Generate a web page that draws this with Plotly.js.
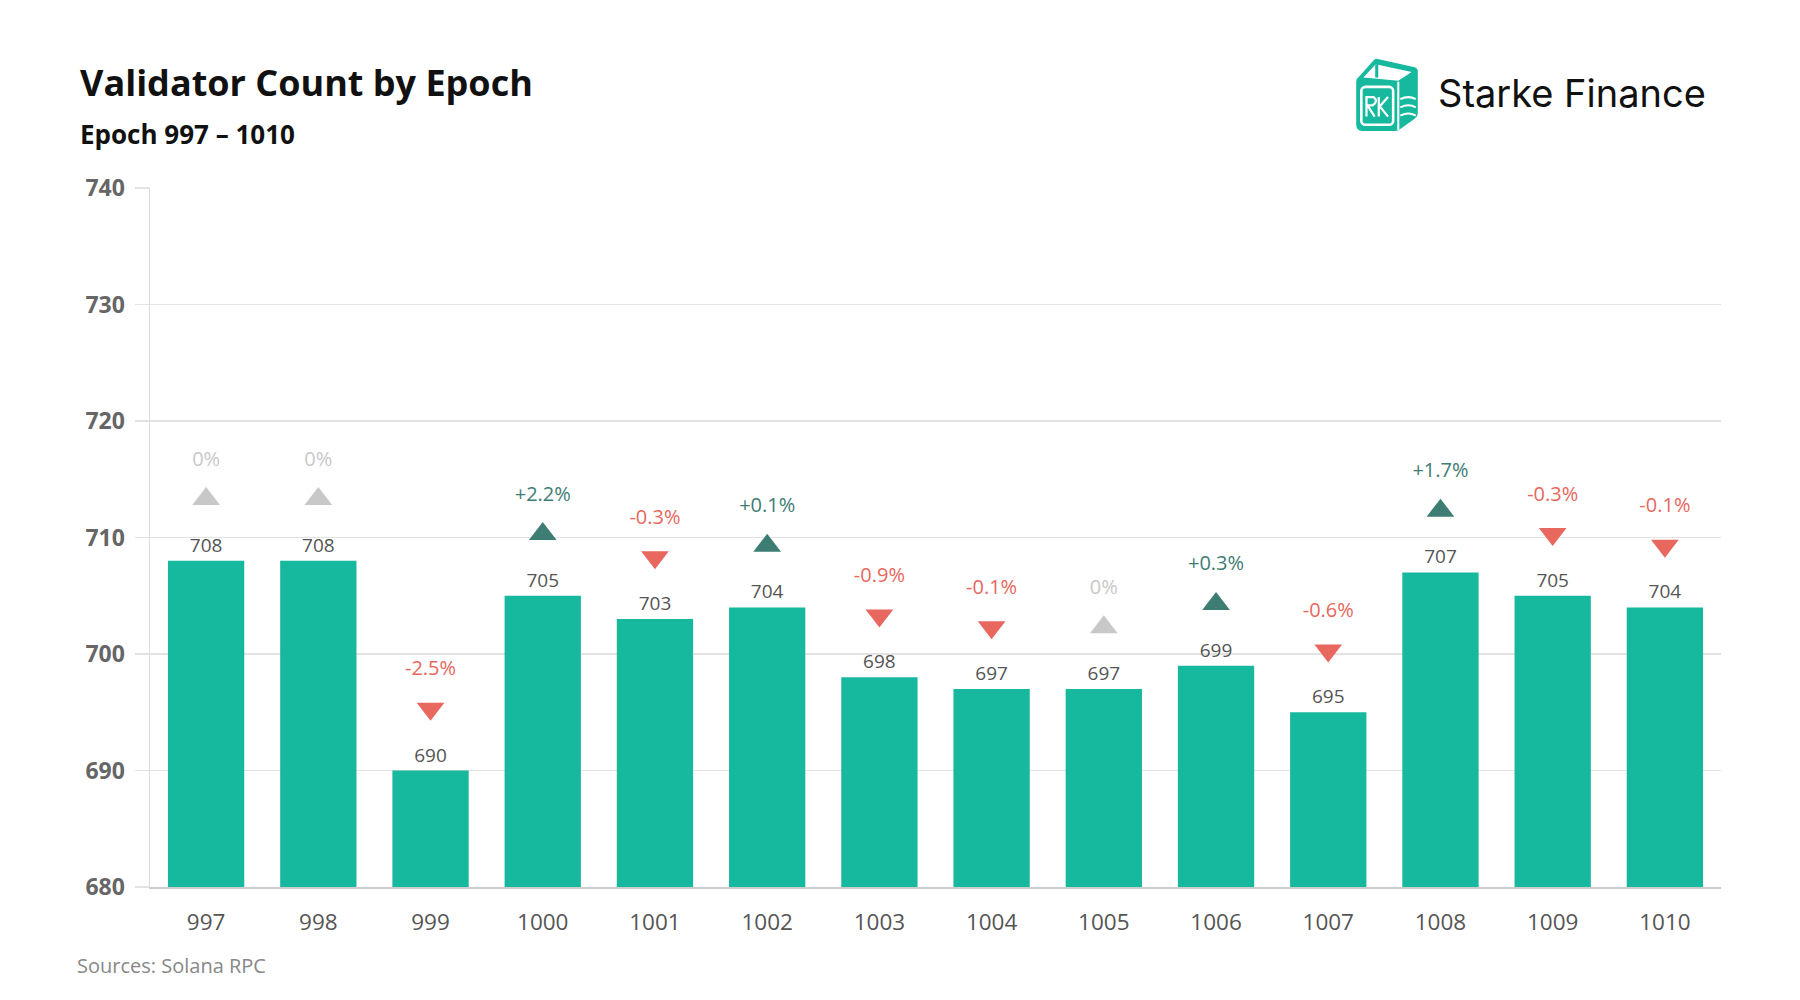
<!DOCTYPE html>
<html>
<head>
<meta charset="utf-8">
<script src="https://cdn.plot.ly/plotly-3.0.1.min.js"></script>
<style>
html,body{margin:0;padding:0;background:#fff;}
#chart{width:1800px;height:1000px;}
</style>
</head>
<body>
<div id="chart"></div>
<script>
// ---- data ----
const epochs = ['997','998','999','1000','1001','1002','1003','1004','1005','1006','1007','1008','1009','1010'];
const validators = [708,708,690,705,703,704,698,697,697,699,695,707,705,704];
const changeLabels = ['0%','0%','-2.5%','+2.2%','-0.3%','+0.1%','-0.9%','-0.1%','0%','+0.3%','-0.6%','+1.7%','-0.3%','-0.1%'];
const yTicks = [680,690,700,710,720,730,740];

// ---- styling ----
const W = 1800, H = 1000;
const M = {l:150, r:79, t:188, b:113};
const TEAL = '#16b89e', UP = '#3d7d74', DOWN = '#e8675e', FLAT = '#c8c8c8';
const FONT = '"Open Sans", "Noto Sans", sans-serif';

const pw = W - M.l - M.r, ph = H - M.t - M.b;
const px2x = x => (x - M.l) / pw;
const px2y = y => (H - M.b - y) / ph;

const dirColor = changeLabels.map(s => s.startsWith('+') ? UP : (s.startsWith('-') ? DOWN : FLAT));
const dirSymbol = changeLabels.map(s => s.startsWith('-') ? 'triangle-down' : 'triangle-up');
const markerY = validators.map(v => v + 5.3);
const labelY = validators.map(v => v + 8.6);

const traces = [
  {
    type:'bar', x:epochs, y:validators.map(v => v - 680), base:680,
    marker:{color:TEAL},
    text:validators.map(String), textposition:'outside',
    textfont:{family:FONT, size:19, color:'#555555'},
    cliponaxis:false, hoverinfo:'skip', showlegend:false
  },
  {
    type:'scatter', mode:'markers', x:epochs, y:markerY,
    marker:{symbol:dirSymbol, color:dirColor, size:24, line:{width:0}},
    hoverinfo:'skip', showlegend:false, cliponaxis:false
  },
  {
    type:'scatter', mode:'text', x:epochs, y:labelY,
    text:changeLabels, textposition:'middle center',
    textfont:{family:FONT, size:20, color:dirColor},
    hoverinfo:'skip', showlegend:false, cliponaxis:false
  }
];

const logoSvg = `<svg xmlns="http://www.w3.org/2000/svg" viewBox="0 0 64 76">
<path d="M4 23 L19 6 Q21 4 24 5 L59 13 Q62 14 62 17 L62 58 Q62 61 59 63 L45 73 Q43 75 40 75 L8 75 Q2 75 2 69 L2 27 Q2 24 4 23 Z" fill="${TEAL}"/>
<path d="M9 23 L21 10 L56 17.5 L43 26 Z" fill="#fff"/>
<line x1="22" y1="10" x2="22" y2="23" stroke="${TEAL}" stroke-width="3"/>
<line x1="43" y1="27" x2="43" y2="74" stroke="#fff" stroke-width="2"/>
<rect x="7" y="32" width="31" height="37" rx="4" fill="none" stroke="#fff" stroke-width="2.5"/>
<path d="M12 61 L12 42 L19 42 Q24 46 18 50 L13 50 L20 61 M24 61 L24 42 M33 42 L25 51 L33 61" fill="none" stroke="#fff" stroke-width="2.2"/>
<path d="M45 44 Q53 40 60 44 M45 52 Q53 48 60 52 M45 60 Q53 56 60 60" fill="none" stroke="#fff" stroke-width="2"/>
</svg>`;
const logoUri = 'data:image/svg+xml;base64,' + btoa(logoSvg);

const layout = {
  width:W, height:H,
  margin:M,
  paper_bgcolor:'#ffffff', plot_bgcolor:'#ffffff',
  font:{family:FONT, color:'#555555'},
  bargap:0.32,
  showlegend:false,
  title:{
    text:'Validator Count by Epoch',
    font:{family:FONT, size:36, color:'#111111', weight:700},
    xref:'container', yref:'container', x:80/W, xanchor:'left', y:1-83/H, yanchor:'middle'
  },
  xaxis:{
    type:'category', categoryorder:'array', categoryarray:epochs,
    range:[-0.5, epochs.length - 0.5], autorange:false,
    showgrid:false, zeroline:false,
    showline:true, linecolor:'#cccccc', linewidth:2,
    ticks:'outside', ticklen:14, tickcolor:'rgba(0,0,0,0)',
    tickfont:{family:FONT, size:22.5, color:'#555555'},
    fixedrange:true
  },
  yaxis:{
    range:[680,740], autorange:false, tickvals:yTicks, ticktext:yTicks.map(String),
    showgrid:true, gridcolor:'#e3e3e3', gridwidth:1.5,
    zeroline:false,
    showline:true, linecolor:'#dddddd', linewidth:1.5,
    ticks:'outside', ticklen:14, tickcolor:'#e3e3e3', tickwidth:1.5,
    ticklabelstandoff:5,
    tickfont:{family:FONT, size:23, color:'#666666', weight:700},
    fixedrange:true
  },
  annotations:[
    {text:'Epoch 997 – 1010', xref:'paper', yref:'paper', x:px2x(78), y:px2y(134),
     xanchor:'left', yanchor:'middle', showarrow:false,
     font:{family:FONT, size:26, color:'#111111', weight:700}},
    {text:'Sources: Solana RPC', xref:'paper', yref:'paper', x:px2x(75), y:px2y(965),
     xanchor:'left', yanchor:'middle', showarrow:false,
     font:{family:FONT, size:20, color:'#888888'}},
    {text:'Starke Finance', xref:'paper', yref:'paper', x:px2x(1436), y:px2y(93),
     xanchor:'left', yanchor:'middle', showarrow:false,
     font:{family:'Inter, "Noto Sans", sans-serif', size:38, color:'#111111'}}
  ],
  images:[
    {source:logoUri, xref:'paper', yref:'paper', x:px2x(1354), y:px2y(54),
     sizex:66/pw, sizey:78/ph, xanchor:'left', yanchor:'top', sizing:'contain', layer:'above'}
  ]
};

Plotly.newPlot('chart', traces, layout, {displayModeBar:false, staticPlot:true});
</script>
</body>
</html>
